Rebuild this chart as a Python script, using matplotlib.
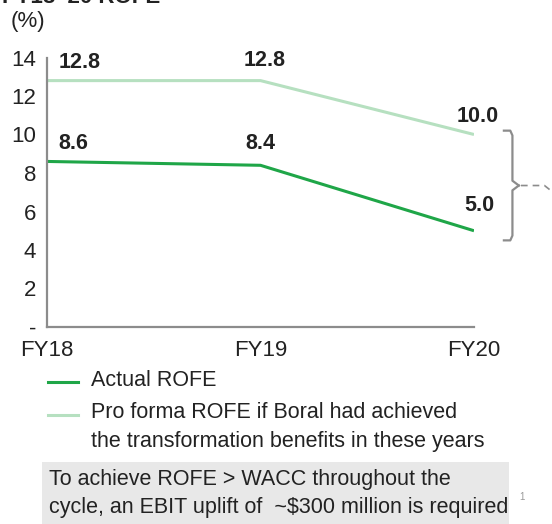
import matplotlib.pyplot as plt
from matplotlib.patches import Rectangle

plt.rcParams['font.family'] = ['Liberation Sans', 'DejaVu Sans']

years = ['FY18', 'FY19', 'FY20']
actual = [8.6, 8.4, 5.0]
pro_forma = [12.8, 12.8, 10.0]
yticks = [0, 2, 4, 6, 8, 10, 12, 14]
ytick_labels = ['-', '2', '4', '6', '8', '10', '12', '14']

dark_green = '#1fa648'
light_green = '#b6e0c0'
grey = '#8c8c8c'
txt = '#222222'

W, H = 552, 524
fig = plt.figure(figsize=(W / 100, H / 100), dpi=100)


def fx(px):
    return px / W


def fy(py):
    return 1 - py / H


# axes box in pixel terms: left 47, right 474, y=0 at 327, y=14 at 57.5
ax = fig.add_axes([fx(47), fy(327), fx(474 - 47), (327 - 57.5) / H])
x = range(len(years))
ax.plot(x, pro_forma, color=light_green, lw=2.2, solid_capstyle='butt')
ax.plot(x, actual, color=dark_green, lw=2.2, solid_capstyle='butt')
ax.set_xlim(0, 2)
ax.set_ylim(0, 14)
ax.set_xticks(list(x))
ax.set_xticklabels(years, fontsize=16, color=txt)
ax.set_yticks(yticks)
ax.set_yticklabels(ytick_labels, fontsize=16, color=txt)
ax.tick_params(length=0)
ax.tick_params(axis='x', pad=9)
ax.tick_params(axis='y', pad=8)
for s in ['top', 'right']:
    ax.spines[s].set_visible(False)
for s in ['left', 'bottom']:
    ax.spines[s].set_color(grey)
    ax.spines[s].set_linewidth(1.6)

# value labels
lab_kw = dict(fontsize=15.5, fontweight='bold', color=txt)
ax.text(0.055, pro_forma[0] + 0.95, f'{pro_forma[0]:.1f}', ha='left', va='center', **lab_kw)
ax.text(1.02, pro_forma[1] + 1.05, f'{pro_forma[1]:.1f}', ha='center', va='center', **lab_kw)
ax.text(2.015, pro_forma[2] + 0.95, f'{pro_forma[2]:.1f}', ha='center', va='center', **lab_kw)
ax.text(0.055, actual[0] + 0.95, f'{actual[0]:.1f}', ha='left', va='center', **lab_kw)
ax.text(1.0, actual[1] + 1.15, f'{actual[1]:.1f}', ha='center', va='center', **lab_kw)
ax.text(2.025, actual[2] + 1.3, f'{actual[2]:.1f}', ha='center', va='center', **lab_kw)

# curly brace to the right of FY20
lo, hi = 4.5, 10.2
mid = (lo + hi) / 2
bx0, bx1, bx2 = 2.14, 2.18, 2.21
r = 0.25
ax.plot([bx0, bx1 - 0.01, bx1, bx1, bx2], [hi, hi, hi - r, mid + r, mid],
        color=grey, lw=1.6, clip_on=False)
ax.plot([bx2, bx1, bx1, bx1 - 0.01, bx0], [mid, mid - r, lo + r, lo, lo],
        color=grey, lw=1.6, clip_on=False)
ax.plot([2.22, 2.33, 2.37], [mid, mid, mid - 0.35], color=grey, lw=1.2,
        ls=(0, (4, 3)), clip_on=False)

# title (partly cut off at the top) and unit
fig.text(fx(2), fy(3), 'FY18\u201320 ROFE', fontsize=16, fontweight='bold',
         ha='left', va='baseline', color=txt)
fig.text(fx(11), fy(22), '(%)', fontsize=16, ha='left', va='center', color=txt)

# legend drawn by hand
fig.add_artist(plt.Line2D([fx(48), fx(78)], [fy(382), fy(382)], color=dark_green, lw=2.2))
fig.add_artist(plt.Line2D([fx(48), fx(78)], [fy(415), fy(415)], color=light_green, lw=2.2))
fig.text(fx(91), fy(381), 'Actual ROFE', fontsize=15.5, ha='left', va='center', color=txt)
fig.text(fx(91), fy(413), 'Pro forma ROFE if Boral had achieved', fontsize=15.5,
         ha='left', va='center', color=txt)
fig.text(fx(91), fy(442), 'the transformation benefits in these years', fontsize=15.5,
         ha='left', va='center', color=txt)

# grey callout box
fig.add_artist(Rectangle((fx(42), 0), fx(509 - 42), fy(462), transform=fig.transFigure,
                         facecolor='#e8e8e8', edgecolor='none'))
fig.text(fx(49), fy(480), 'To achieve ROFE > WACC throughout the', fontsize=15.5,
         ha='left', va='center', color=txt)
fig.text(fx(49), fy(508), 'cycle, an EBIT uplift of  ~$300 million is required', fontsize=15.5,
         ha='left', va='center', color=txt)
fig.text(fx(519), fy(497), '1', fontsize=7, ha='left', va='center', color='#999999')

fig.savefig('out.png', dpi=100)
